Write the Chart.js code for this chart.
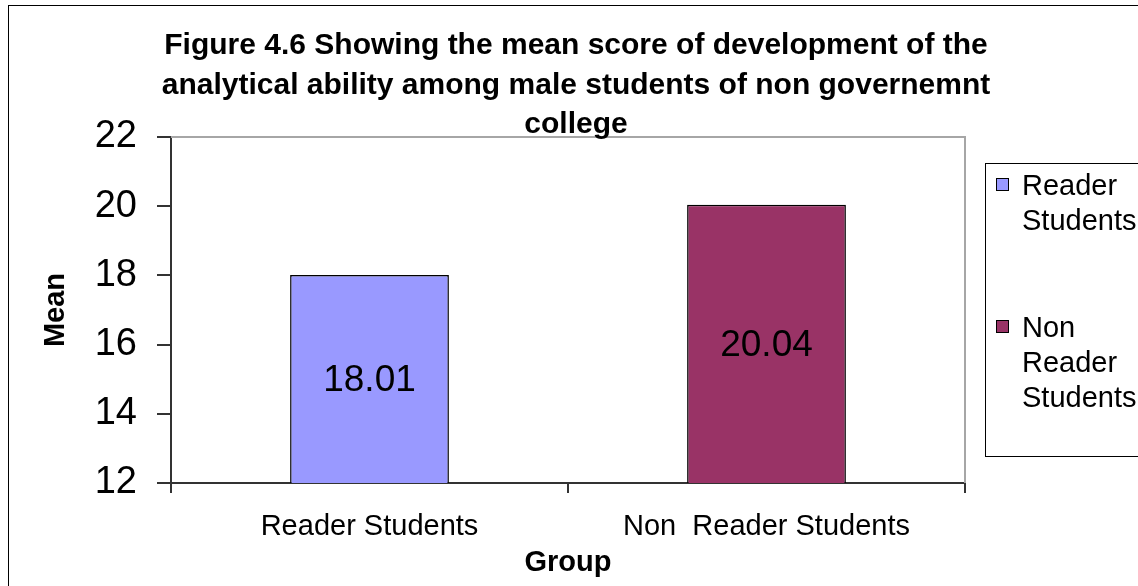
<!DOCTYPE html>
<html>
<head>
<meta charset="utf-8">
<script src="https://cdn.jsdelivr.net/npm/chart.js@4.4.1/dist/chart.umd.min.js"></script>
<style>
  html, body { margin: 0; padding: 0; background: #ffffff; }
  #wrap { width: 1138px; height: 586px; position: relative; }
</style>
</head>
<body>
<div id="wrap"><canvas id="chart" width="1138" height="586"></canvas></div>
<script>
// Group means
const groups = ['Reader Students', 'Non  Reader Students'];
const meanScores = [18.01, 20.04];
const barColors = ['#9999FF', '#993366'];
const yTicks = [12, 14, 16, 18, 20, 22];
const titleLines = [
  'Figure 4.6 Showing the mean score of development of the',
  'analytical ability among male students of non governemnt',
  'college'
];

const FONT = '"Liberation Sans", Arial, Helvetica, sans-serif';

// White page with a thin frame around the chart
const framePlugin = {
  id: 'frame',
  beforeDraw(chart) {
    const ctx = chart.ctx;
    ctx.save();
    ctx.fillStyle = '#ffffff';
    ctx.fillRect(0, 0, chart.width, chart.height);
    ctx.strokeStyle = '#000000';
    ctx.lineWidth = 1;
    ctx.strokeRect(8.5, 5.5, chart.width + 20, chart.height + 20);
    ctx.restore();
  }
};

// Grey top and right edges of the plot area
const plotBorderPlugin = {
  id: 'plotBorder',
  beforeDatasetsDraw(chart) {
    const { ctx, chartArea: a } = chart;
    ctx.save();
    ctx.strokeStyle = '#a6a6a6';
    ctx.lineWidth = 2;
    ctx.beginPath();
    ctx.moveTo(a.left, a.top);
    ctx.lineTo(a.right, a.top);
    ctx.lineTo(a.right, a.bottom);
    ctx.stroke();
    ctx.restore();
  }
};

// Value written in the middle of the visible part of each bar
const valueLabelPlugin = {
  id: 'valueLabels',
  afterDatasetsDraw(chart) {
    const ctx = chart.ctx;
    const meta = chart.getDatasetMeta(0);
    const values = chart.data.datasets[0].data;
    const bottom = chart.chartArea.bottom;
    ctx.save();
    ctx.font = '37px ' + FONT;
    ctx.fillStyle = '#000000';
    ctx.textAlign = 'center';
    ctx.textBaseline = 'middle';
    meta.data.forEach((bar, i) => {
      const p = bar.getProps(['x', 'y', 'base'], true);
      const base = Math.min(p.base, bottom);
      ctx.fillText(values[i].toFixed(2), p.x, (p.y + base) / 2 + 2);
    });
    ctx.restore();
  }
};

// Three-line bold heading
const headingPlugin = {
  id: 'heading',
  afterDraw(chart, args, opts) {
    const ctx = chart.ctx;
    ctx.save();
    ctx.font = 'bold 30px ' + FONT;
    ctx.fillStyle = '#000000';
    ctx.textAlign = 'center';
    ctx.textBaseline = 'alphabetic';
    opts.lines.forEach((line, i) => {
      ctx.fillText(line, opts.x, opts.firstBaseline + i * opts.lineGap);
    });
    ctx.restore();
  }
};

// Boxed legend on the right with word-wrapped entries
const sideLegendPlugin = {
  id: 'sideLegend',
  afterDraw(chart, args, opts) {
    const ctx = chart.ctx;
    const labels = chart.data.labels;
    const colors = chart.data.datasets[0].backgroundColor;
    ctx.save();
    ctx.strokeStyle = '#000000';
    ctx.lineWidth = 1;
    ctx.strokeRect(opts.left + 0.5, opts.top + 0.5, 400, opts.height);
    ctx.font = '29px ' + FONT;
    ctx.textAlign = 'left';
    ctx.textBaseline = 'alphabetic';
    labels.forEach((label, i) => {
      const words = label.split(/\s+/).filter(Boolean);
      const lines = [];
      let cur = '';
      words.forEach(w => {
        const test = cur ? cur + ' ' + w : w;
        if (cur && ctx.measureText(test).width > opts.maxTextWidth) {
          lines.push(cur);
          cur = w;
        } else {
          cur = test;
        }
      });
      if (cur) lines.push(cur);
      const base = opts.firstBaseline + i * opts.itemGap;
      ctx.fillStyle = colors[i];
      ctx.fillRect(opts.left + 11, base - 17, 12, 12);
      ctx.strokeStyle = '#000000';
      ctx.strokeRect(opts.left + 11.5, base - 16.5, 12, 12);
      ctx.fillStyle = '#000000';
      lines.forEach((ln, j) => {
        ctx.fillText(ln, opts.left + 37, base + j * opts.lineGap);
      });
    });
    ctx.restore();
  }
};

new Chart(document.getElementById('chart'), {
  type: 'bar',
  data: {
    labels: groups,
    datasets: [{
      label: 'Mean',
      data: meanScores,
      backgroundColor: barColors,
      borderColor: '#000000',
      borderWidth: 1.5,
      categoryPercentage: 1.0,
      barPercentage: 0.4
    }]
  },
  options: {
    responsive: false,
    animation: false,
    devicePixelRatio: 1,
    layout: { padding: { left: 10, top: 137, right: 173, bottom: 2 } },
    plugins: {
      legend: { display: false },
      title: { display: false },
      tooltip: { enabled: false },
      heading: { lines: titleLines, x: 576, firstBaseline: 54, lineGap: 39.5 },
      sideLegend: { left: 985, top: 163, height: 293, firstBaseline: 195, itemGap: 142, lineGap: 35, maxTextWidth: 118 }
    },
    scales: {
      x: {
        afterFit(scale) { scale.height = 101; },
        grid: {
          offset: true,
          drawOnChartArea: false,
          drawTicks: true,
          tickLength: 10,
          color: '#333333',
          lineWidth: 2
        },
        border: { display: true, color: '#333333', width: 2 },
        ticks: {
          color: '#000000',
          padding: 17,
          font: { family: FONT, size: 29 }
        },
        title: {
          display: true,
          text: 'Group',
          color: '#000000',
          font: { family: FONT, size: 29, weight: 'bold' },
          padding: { top: 0, bottom: 4 }
        }
      },
      y: {
        min: 12,
        max: 22,
        afterFit(scale) { scale.width = 161; },
        afterBuildTicks(scale) { scale.ticks = yTicks.map(v => ({ value: v })); },
        grid: {
          drawOnChartArea: false,
          drawTicks: true,
          tickLength: 14,
          color: '#333333',
          lineWidth: 2
        },
        border: { display: true, color: '#333333', width: 2 },
        ticks: {
          color: '#000000',
          padding: 20,
          font: { family: FONT, size: 38 }
        },
        title: {
          display: true,
          text: 'Mean',
          color: '#000000',
          font: { family: FONT, size: 29, weight: 'bold' },
          padding: { top: 29, bottom: 0 }
        }
      }
    }
  },
  plugins: [framePlugin, plotBorderPlugin, valueLabelPlugin, headingPlugin, sideLegendPlugin]
});
</script>
</body>
</html>
